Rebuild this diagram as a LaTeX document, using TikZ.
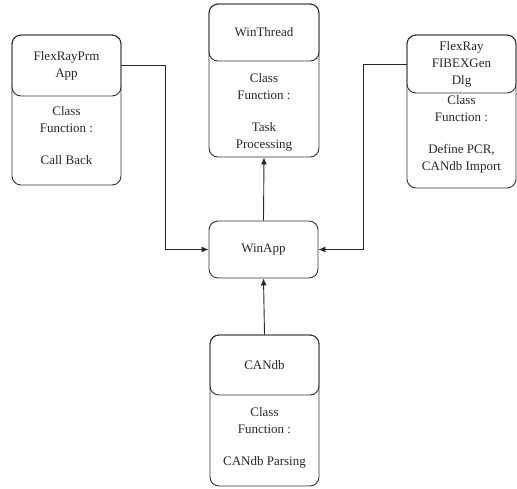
\documentclass[tikz,border=0pt]{standalone}
\usepackage{fontspec}
\setmainfont{Liberation Serif}
\usetikzlibrary{arrows.meta}
\begin{document}
\begin{tikzpicture}[x=1pt,y=-1pt,
  outline/.style={draw=black!80, line width=0.9pt, rounded corners=9pt, inner sep=0pt},
  label/.style={font=\fontsize{13}{17}\selectfont, align=center, inner sep=0pt, text=black!85},
  conn/.style={draw=black!85, line width=0.9pt},
  arrowconn/.style={conn, -{Latex[length=7pt,width=6pt]}}]
\useasboundingbox (0,0) rectangle (517,488);

% FlexRayPrm App
\node[outline, minimum width=109pt, minimum height=150pt] (prm) at (66.5,110) {};
\node[outline, minimum width=109pt, minimum height=61pt, label] (prmHead) at (66.5,65.5) {FlexRayPrm\\App};
\node[label] (prmBody) at (66.5,136) {Class\\Function :\\[15pt]Call Back};

% WinThread
\node[outline, minimum width=110pt, minimum height=153pt] (thread) at (264,80.5) {};
\node[outline, minimum width=110pt, minimum height=57pt, label] (threadHead) at (264,32.5) {WinThread};
\node[label] (threadBody) at (264,112.5) {Class\\Function :\\[15pt]Task\\Processing};

% FlexRay FIBEXGen Dlg
\node[outline, minimum width=109pt, minimum height=153pt] (fib) at (461.5,111.5) {};
\node[outline, minimum width=109pt, minimum height=58pt, label] (fibHead) at (461.5,64) {FlexRay\\FIBEXGen\\Dlg};
\node[label] (fibBody) at (461.5,134.5) {Class\\Function :\\[15pt]Define PCR,\\CANdb Import};

% WinApp
\node[outline, minimum width=109pt, minimum height=57pt, label] (winapp) at (263.5,249.5) {WinApp};

% CANdb
\node[outline, minimum width=109pt, minimum height=151pt] (candb) at (264.5,410.5) {};
\node[outline, minimum width=109pt, minimum height=60pt, label] (candbHead) at (264.5,365) {CANdb};
\node[label] (candbBody) at (264.5,438) {Class\\Function :\\[15pt]CANdb Parsing};

% connectors
\coordinate (lbend) at (165,249.5);
\coordinate (rbend) at (363,249.5);
\draw[arrowconn] (prmHead.east) -| (lbend) -- (winapp.west);
\draw[arrowconn] (fibHead.west) -| (rbend) -- (winapp.east);
\draw[arrowconn] (winapp.north) -- (thread.south);
\draw[arrowconn] (candb.north) -- (winapp.south);
\end{tikzpicture}
\end{document}
